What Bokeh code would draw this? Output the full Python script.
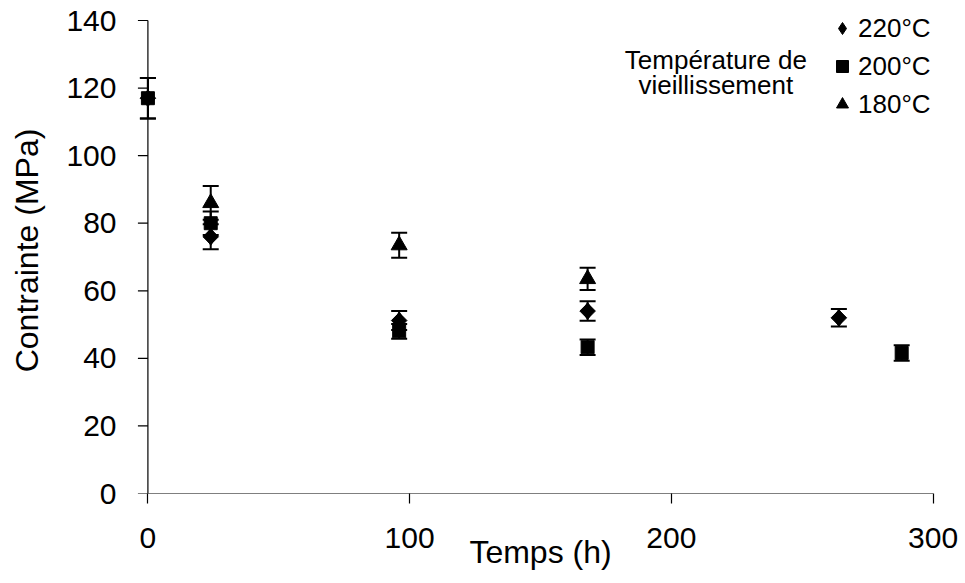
import numpy as np
from bokeh.plotting import figure
from bokeh.models import (ColumnDataSource, Whisker, TeeHead, Range1d, FixedTicker,
                          Legend, LegendItem, Label, Arrow)
from bokeh.embed import file_html
from bokeh.resources import INLINE

# ---- data ----
t_220 = [0, 24, 96, 168, 264]
v_220 = [117, 76, 51.2, 54, 52]
e_220 = [6, 3.7, 2.8, 2.9, 2.6]

t_200 = [0, 24, 96, 168, 288]
v_200 = [117, 80, 48, 43.3, 41.6]
e_200 = [6, 3.5, 2.2, 2.3, 2.3]

t_180 = [24, 96, 168]
v_180 = [86, 73.5, 63.5]
e_180 = [5, 3.7, 3.3]

x_ticks = [0, 100, 200, 300]
y_ticks = [0, 20, 40, 60, 80, 100, 120, 140]
series_labels = ["220°C", "200°C", "180°C"]
legend_title = ["Température de", "vieillissement"]
x_title = "Temps (h)"
y_title = "Contrainte (MPa)"

FONT = "Liberation Sans"

p = figure(width=965, height=583, output_backend="svg", toolbar_location=None,
           x_range=Range1d(-12, 312), y_range=Range1d(0, 143.85),
           min_border_left=116, min_border_right=1, min_border_top=7, min_border_bottom=90)
p.outline_line_color = None
p.grid.grid_line_color = None
p.background_fill_color = "white"
p.border_fill_color = "white"

xa = p.xaxis[0]
ya = p.yaxis[0]
for ax in (xa, ya):
    ax.axis_line_color = None
    ax.major_tick_line_color = "black"
    ax.major_tick_line_width = 1.2
    ax.minor_tick_line_color = None
    ax.major_label_text_font = FONT
    ax.major_label_text_font_size = "30px"
    ax.major_label_text_color = "black"
    ax.axis_label_text_font = FONT
    ax.axis_label_text_font_size = "32px"
    ax.axis_label_text_font_style = "normal"
    ax.axis_label_text_color = "black"

xa.ticker = FixedTicker(ticks=x_ticks)
xa.major_tick_in = 0
xa.major_tick_out = 10
xa.major_label_standoff = 24
xa.axis_label = x_title
xa.axis_label_standoff = -17

ya.ticker = FixedTicker(ticks=y_ticks)
ya.major_tick_in = 0
ya.major_tick_out = 0
ya.major_label_standoff = 0
ya.axis_label = y_title
ya.axis_label_standoff = 18

# axis lines drawn at x=0 and y=0
p.add_layout(Arrow(x_start=x_ticks[0], y_start=y_ticks[0], x_end=x_ticks[-1], y_end=y_ticks[0],
                   start=None, end=None, line_color="black", line_width=1.2))
p.add_layout(Arrow(x_start=x_ticks[0], y_start=y_ticks[0], x_end=x_ticks[0], y_end=y_ticks[-1],
                   start=None, end=None, line_color="black", line_width=1.2))

# y tick marks pointing left from the x=0 axis (10 px long)
tick_len = 10 / (786 / 300)
ytick_src = ColumnDataSource(dict(y=y_ticks, lo=[-tick_len] * len(y_ticks), hi=[0] * len(y_ticks)))
p.add_layout(Whisker(source=ytick_src, base="y", lower="lo", upper="hi", dimension="width",
                     lower_head=None, upper_head=None, line_color="black", line_width=1.2))


def add_whiskers(t, v, e):
    v = np.array(v, dtype=float)
    e = np.array(e, dtype=float)
    src = ColumnDataSource(dict(x=t, y=v, upper=v + e, lower=v - e))
    w = Whisker(source=src, base="x", upper="upper", lower="lower", dimension="height",
                line_color="black", line_width=2,
                upper_head=TeeHead(size=16, line_color="black", line_width=2),
                lower_head=TeeHead(size=16, line_color="black", line_width=2))
    p.add_layout(w)
    return src


s220 = add_whiskers(t_220, v_220, e_220)
s200 = add_whiskers(t_200, v_200, e_200)
s180 = add_whiskers(t_180, v_180, e_180)

r220 = p.scatter("x", "y", source=s220, marker="diamond", size=17,
                 fill_color="black", line_color="black")
p.scatter("x", "y", source=s220, marker="square", size=11, angle=np.pi / 4,
          fill_color="black", line_color="black")
r200 = p.scatter("x", "y", source=s200, marker="square", size=13,
                 fill_color="black", line_color="black")
r180 = p.scatter("x", "y", source=s180, marker="triangle", size=16,
                 fill_color="black", line_color="black")

legend = Legend(items=[LegendItem(label=series_labels[0], renderers=[r220]),
                       LegendItem(label=series_labels[1], renderers=[r200]),
                       LegendItem(label=series_labels[2], renderers=[r180])],
                location=(711, 373), orientation="vertical",
                glyph_width=30, glyph_height=32, label_standoff=1, spacing=6,
                padding=0, margin=0, border_line_color=None, background_fill_alpha=0,
                label_text_font=FONT, label_text_font_size="26px", label_text_color="black")
p.add_layout(legend)

for i, txt in enumerate(legend_title):
    p.add_layout(Label(x=217, y=128.2 - i * 7.4, text=txt, text_align="center",
                       text_baseline="alphabetic", text_font=FONT, text_font_size="26px",
                       text_color="black"))

open("out.html", "w").write(file_html(p, INLINE))
